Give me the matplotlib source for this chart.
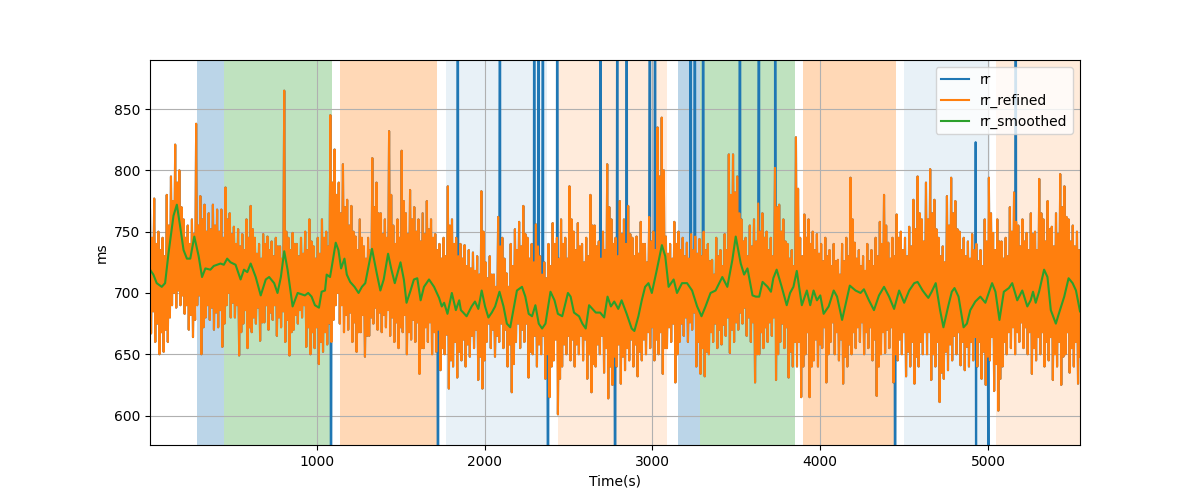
import numpy as np
import matplotlib
matplotlib.use('Agg')
import matplotlib.pyplot as plt

# rr_refined, read in 25 s bins starting at T0:
# highest / lowest beat of each bin, then the next highest / lowest
T0 = 5.0
BIN = 25.0
rr_peaks = [
    768, 777, 750, 745, 780, 795, 821, 800, 760, 755, 760, 838, 779, 772, 765, 772, 768, 768, 786, 765,
    754, 752, 748, 760, 771, 745, 740, 748, 746, 742, 745, 738, 865, 745, 749, 740, 745,
    750, 760, 738, 745, 760, 750, 845, 817, 790, 805, 776, 771, 746, 760, 738, 745, 810, 790, 765, 760,
    832, 755, 760, 816, 765, 784, 770, 760, 765, 775, 760, 748, 740, 745, 787, 760, 745, 740,
    739, 735, 733, 730, 783, 725, 730, 715, 762, 745, 716, 740, 752, 758, 771, 745, 740, 756, 730, 725,
    740, 757, 745, 760, 745, 787, 750, 757, 740, 745, 780, 755, 742, 750, 805, 760, 745,
    775, 760, 771, 745, 746, 758, 740, 762, 750, 835, 843, 746, 740, 758, 750, 745, 741, 748, 746, 744,
    750, 740, 727, 745, 735, 748, 813, 813, 795, 760, 745, 755, 760, 773, 765, 750, 745,
    802, 772, 760, 740, 735, 827, 745, 764, 760, 750, 748, 740, 745, 735, 740, 727, 740, 745, 794, 741,
    735, 730, 740, 735, 745, 758, 780, 741, 745, 764, 750, 745, 754, 776, 795, 760, 790,
    801, 776, 745, 738, 779, 794, 775, 750, 745, 742, 748, 740, 735, 760, 794, 749, 760, 742, 745, 770,
    782, 755, 760, 749, 765, 750, 793, 760, 775, 754, 765, 797, 787, 760, 755, 750,
]
rr_troughs = [
    667, 660, 650, 652, 660, 690, 688, 690, 683, 670, 664, 690, 650, 680, 678, 670, 672, 656, 690, 680,
    680, 649, 675, 655, 668, 675, 661, 676, 670, 678, 665, 672, 660, 649, 670, 675, 680,
    656, 650, 655, 642, 652, 658, 660, 690, 675, 668, 670, 660, 652, 668, 648, 665, 675, 670, 668, 672,
    665, 660, 655, 668, 650, 662, 660, 634, 655, 660, 650, 652, 637, 650, 622, 640, 631, 645,
    640, 648, 655, 629, 622, 660, 655, 648, 660, 655, 640, 619, 660, 655, 660, 631, 650, 640, 650, 630,
    615, 645, 601, 640, 650, 645, 640, 650, 645, 630, 619, 640, 650, 635, 614, 625, 640,
    626, 637, 645, 640, 632, 645, 650, 655, 645, 650, 634, 655, 660, 627, 660, 665, 660, 670, 640, 634,
    632, 650, 660, 655, 658, 665, 651, 660, 670, 675, 665, 660, 627, 650, 655, 660, 665,
    629, 660, 655, 631, 640, 640, 615, 650, 615, 645, 640, 655, 627, 660, 650, 645, 626, 640, 650, 655,
    660, 650, 655, 645, 616, 650, 651, 655, 627, 645, 650, 632, 640, 626, 640, 650, 650,
    629, 640, 611, 630, 637, 645, 650, 641, 637, 640, 645, 640, 630, 625, 645, 620, 604, 640, 650, 655,
    650, 660, 655, 650, 634, 645, 650, 640, 645, 629, 640, 625, 650, 635, 640, 626,
]
rr_peaks2 = [
    745, 740, 735, 730, 755, 775, 790, 770, 745, 740, 748, 755, 760, 750, 752, 755, 750, 745, 760, 748,
    740, 738, 735, 745, 752, 732, 728, 740, 735, 730, 738, 728, 750, 735, 740, 730, 732,
    735, 742, 728, 732, 745, 738, 790, 780, 765, 770, 755, 750, 735, 745, 728, 735, 770, 765, 748, 745,
    780, 740, 745, 775, 748, 760, 750, 742, 748, 752, 745, 735, 728, 730, 755, 740, 730, 728,
    722, 720, 718, 715, 750, 712, 715, 705, 738, 728, 705, 722, 735, 738, 748, 728, 725, 738, 715, 712,
    722, 740, 728, 740, 728, 760, 735, 738, 725, 730, 755, 738, 728, 735, 770, 740, 730,
    748, 740, 748, 730, 732, 740, 725, 742, 735, 795, 800, 732, 728, 740, 735, 730, 728, 735, 732, 730,
    735, 726, 715, 730, 722, 735, 780, 782, 765, 742, 730, 738, 742, 750, 745, 735, 730,
    770, 750, 742, 728, 722, 785, 730, 745, 740, 735, 732, 726, 730, 722, 726, 715, 726, 730, 760, 728,
    722, 718, 726, 722, 730, 740, 755, 728, 730, 745, 735, 730, 738, 752, 765, 742, 760,
    765, 752, 730, 725, 755, 765, 752, 735, 730, 728, 735, 726, 722, 742, 765, 735, 742, 728, 730, 750,
    758, 738, 742, 735, 748, 735, 765, 742, 752, 738, 748, 770, 762, 742, 738, 735,
]
rr_troughs2 = [
    685, 675, 668, 670, 680, 700, 702, 698, 690, 682, 678, 698, 672, 690, 688, 684, 686, 675, 700, 692,
    690, 668, 686, 672, 680, 688, 676, 690, 684, 690, 680, 685, 678, 668, 682, 686, 690,
    672, 668, 672, 660, 668, 675, 678, 700, 690, 682, 684, 676, 668, 682, 665, 680, 688, 684, 682, 686,
    680, 676, 672, 682, 668, 678, 676, 655, 672, 676, 668, 670, 655, 666, 645, 660, 652, 662,
    658, 665, 670, 648, 645, 675, 670, 665, 675, 670, 658, 642, 675, 670, 675, 652, 665, 658, 665, 650,
    640, 662, 630, 658, 665, 662, 658, 665, 662, 650, 642, 658, 665, 655, 640, 648, 658,
    648, 655, 662, 658, 652, 662, 668, 672, 662, 668, 655, 672, 675, 650, 675, 680, 676, 684, 660, 655,
    652, 668, 675, 670, 674, 680, 670, 676, 684, 688, 680, 676, 650, 668, 672, 676, 680,
    650, 675, 672, 652, 660, 660, 640, 668, 640, 662, 658, 672, 650, 676, 668, 662, 648, 658, 668, 672,
    676, 668, 672, 662, 640, 668, 670, 672, 650, 662, 668, 652, 660, 648, 660, 668, 668,
    650, 660, 635, 652, 658, 665, 668, 660, 656, 660, 664, 660, 652, 648, 664, 642, 630, 660, 668, 672,
    668, 676, 672, 668, 655, 664, 668, 660, 664, 650, 660, 648, 668, 655, 660, 648,
]

# raw rr artifacts (missed / extra beats) that rr_refined removed
artifact_t = [1084, 1722, 1838, 2092, 2296, 2322, 2348, 2378, 2432, 2692, 2778, 2792, 2846,
              2986, 3016, 3226, 3252, 3302, 3522, 3636, 3730, 4446, 4926, 4929, 5004, 5164]
artifact_ms = [380, 380, 1300, 1300, 1300, 1300, 1300, 400, 1300, 1300, 400, 1300, 1300,
               1300, 1300, 1300, 1300, 1300, 1300, 1300, 1300, 400, 823, 400, 400, 1300]

smooth_t = [
    5, 25, 45, 75, 95, 115, 145, 165, 185, 205, 225, 245, 269, 295, 315, 335, 365, 385, 425, 445,
    465, 485, 515, 545, 565, 585, 605, 635, 665, 695, 715, 745, 765, 785, 805, 825, 855, 885,
    928, 948, 968, 988, 1012, 1028, 1048, 1058, 1078, 1088, 1112, 1128, 1144, 1164, 1178, 1198, 1224,
    1248, 1268, 1288, 1328, 1358, 1378, 1398, 1424, 1444, 1464, 1498, 1518, 1534, 1558, 1578, 1598,
    1618, 1638, 1668, 1698, 1728, 1744, 1758, 1778, 1804, 1828, 1848, 1858,
    1872, 1892, 1922, 1942, 1962, 1982, 2002, 2022, 2042, 2062, 2088, 2112, 2132, 2152, 2172, 2192,
    2222, 2242, 2262, 2282, 2302, 2322, 2342, 2362, 2392, 2416, 2436, 2462, 2496, 2512, 2532, 2562,
    2582, 2602, 2622, 2642, 2662, 2688, 2712, 2732, 2752, 2772,
    2796, 2816, 2846, 2876, 2892, 2916, 2936, 2956, 2976, 2996, 3026, 3056, 3076, 3096, 3126, 3146,
    3176, 3206, 3236, 3266, 3292, 3316, 3346, 3376, 3416, 3446, 3476, 3496, 3526, 3546, 3566, 3596,
    3616, 3636, 3656, 3686,
    3706, 3720, 3740, 3770, 3800, 3820, 3840, 3860, 3890, 3920, 3940, 3960, 3980, 4000, 4020, 4050,
    4080, 4100, 4130, 4156, 4176, 4210, 4240, 4260, 4290, 4320, 4350, 4380, 4410, 4440, 4470, 4500,
    4530, 4560, 4580, 4610,
    4632, 4644, 4664, 4688, 4714, 4734, 4764, 4784, 4800, 4824, 4854, 4874, 4894, 4924, 4954, 4984,
    5024, 5044, 5068, 5094, 5124, 5144, 5174, 5204, 5234, 5254, 5268, 5284, 5304, 5334, 5354, 5374,
    5404, 5424, 5454, 5480, 5504, 5524, 5548,
]
smooth_ms = [
    719, 715, 708, 705, 708, 732, 763, 772, 754, 735, 728, 728, 746, 730, 713, 720, 719, 722, 724, 723,
    728, 725, 723, 711, 719, 717, 724, 713, 698, 711, 713, 708, 700, 713, 734, 719, 689, 700,
    698, 700, 697, 690, 688, 701, 702, 715, 713, 721, 741, 735, 720, 728, 715, 709, 705,
    700, 705, 708, 736, 715, 702, 711, 732, 719, 708, 725, 711, 692, 702, 711, 712,
    694, 705, 711, 705, 696, 689, 692, 683, 700, 686, 694, 686,
    684, 681, 689, 693, 687, 702, 689, 680, 684, 689, 701, 689, 675, 672, 687, 702,
    705, 697, 683, 681, 690, 675, 671, 675, 701, 694, 683, 681, 700, 697, 684, 681,
    675, 671, 690, 687, 684, 684, 680, 697, 689, 693,
    687, 694, 683, 671, 669, 681, 694, 705, 708, 700, 719, 739, 730, 705, 711, 700,
    708, 708, 702, 689, 681, 689, 700, 702, 713, 705, 727, 746, 724, 715, 720, 698,
    697, 697, 709, 705,
    701, 712, 719, 705, 690, 700, 705, 718, 690, 702, 690, 702, 694, 698, 683, 689,
    702, 697, 678, 694, 706, 702, 700, 703, 694, 686, 698, 705, 697, 687, 702, 692,
    702, 708, 709, 702,
    698, 696, 701, 708, 686, 672, 690, 701, 704, 697, 672, 675, 686, 693, 697, 692,
    708, 701, 678, 701, 704, 708, 694, 702, 689, 694, 701, 692, 701, 719, 713, 686,
    675, 684, 697, 712, 708, 702, 685,
]

# shaded protocol phases
phase_start = [286, 446, 1138, 1768, 2436, 3150, 3286, 3900, 4500, 5050]
phase_end = [446, 1088, 1718, 2373, 3086, 3286, 3850, 4450, 5014, 5548]
phase_kind = ['a', 'b', 'c', 'd', 'e', 'a', 'b', 'c', 'd', 'e']
phase_style = {
    'a': ('C0', 0.3),
    'b': ('C2', 0.3),
    'c': ('C1', 0.3),
    'd': ('C0', 0.1),
    'e': ('C1', 0.15),
}

n = len(rr_peaks)
assert n == len(rr_troughs) == len(rr_peaks2) == len(rr_troughs2)
assert len(smooth_t) == len(smooth_ms)

t_peak = T0 + BIN * np.arange(n)
t_refined = np.empty(4 * n)
rr_refined = np.empty(4 * n)
for j in range(4):
    t_refined[j::4] = t_peak + j * BIN / 4
rr_refined[0::4] = rr_peaks
rr_refined[1::4] = rr_troughs
rr_refined[2::4] = rr_peaks2
rr_refined[3::4] = rr_troughs2

t_rr = np.concatenate([t_refined, artifact_t])
rr = np.concatenate([rr_refined, artifact_ms])
order = np.argsort(t_rr, kind='stable')
t_rr = t_rr[order]
rr = rr[order]

fig, ax = plt.subplots(figsize=(12, 5))

for s, e, k in zip(phase_start, phase_end, phase_kind):
    color, alpha = phase_style[k]
    ax.axvspan(s, e, color=color, alpha=alpha, lw=0)

ax.plot(t_rr, rr, label='rr')
ax.plot(t_refined, rr_refined, label='rr_refined')
ax.plot(smooth_t, smooth_ms, label='rr_smoothed')

ax.set_xlim(T0, phase_end[-1])
ax.set_ylim(rr_refined.min() - 25, rr_refined.max() + 25)
ax.set_xlabel('Time(s)')
ax.set_ylabel('ms')
ax.grid(True)
ax.legend(loc='upper right')

fig.savefig('out.png', dpi=100)
